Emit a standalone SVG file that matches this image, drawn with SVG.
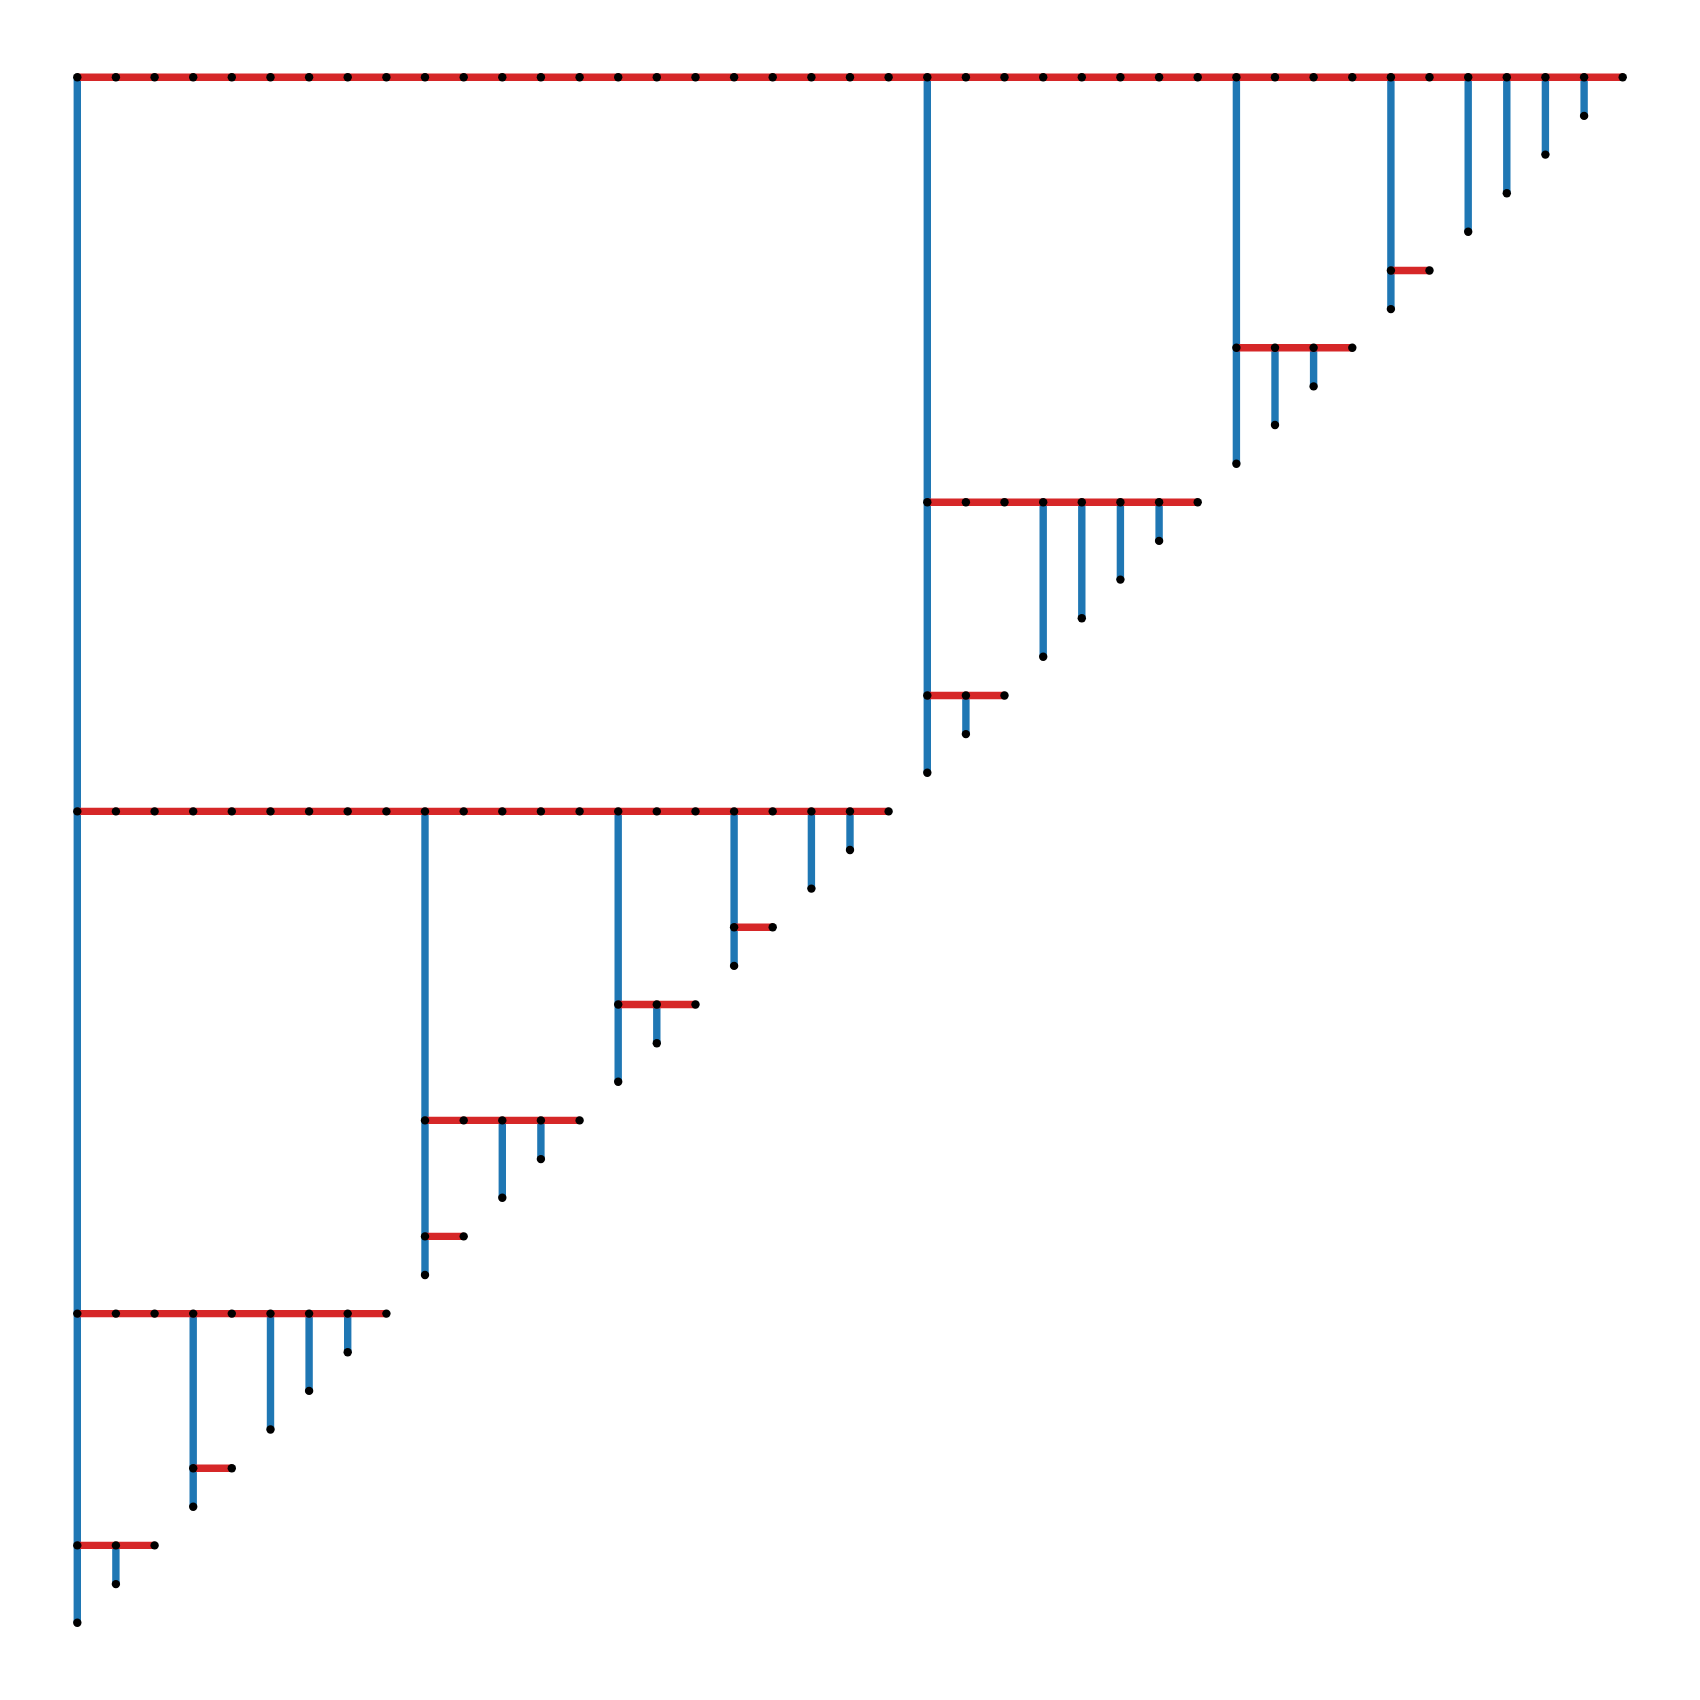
<svg xmlns="http://www.w3.org/2000/svg" width="1700" height="1700" viewBox="0 0 1700 1700">
<style>
.v{stroke:#1f77b4;stroke-width:7.4;stroke-linecap:butt;fill:none}
.h{stroke:#d62728;stroke-width:7.4;stroke-linecap:butt;fill:none}
.n circle{fill:#000}
</style>
<rect width="1700" height="1700" fill="#fff"/>
<g id="connectors">
<g id="vertical">
<line class="v" x1="77.3" y1="77.3" x2="77.3" y2="1622.7"/>
<line class="v" x1="927.3" y1="77.3" x2="927.3" y2="772.7"/>
<line class="v" x1="1236.4" y1="77.3" x2="1236.4" y2="463.7"/>
<line class="v" x1="1390.9" y1="77.3" x2="1390.9" y2="309.1"/>
<line class="v" x1="1468.2" y1="77.3" x2="1468.2" y2="231.8"/>
<line class="v" x1="1506.8" y1="77.3" x2="1506.8" y2="193.2"/>
<line class="v" x1="1545.4" y1="77.3" x2="1545.4" y2="154.6"/>
<line class="v" x1="1584.1" y1="77.3" x2="1584.1" y2="115.9"/>
<line class="v" x1="1313.6" y1="347.7" x2="1313.6" y2="386.4"/>
<line class="v" x1="1275" y1="347.7" x2="1275" y2="425"/>
<line class="v" x1="1043.2" y1="502.3" x2="1043.2" y2="656.8"/>
<line class="v" x1="1081.8" y1="502.3" x2="1081.8" y2="618.2"/>
<line class="v" x1="1120.4" y1="502.3" x2="1120.4" y2="579.6"/>
<line class="v" x1="1159.1" y1="502.3" x2="1159.1" y2="540.9"/>
<line class="v" x1="965.9" y1="695.5" x2="965.9" y2="734.1"/>
<line class="v" x1="425" y1="811.4" x2="425" y2="1275"/>
<line class="v" x1="618.2" y1="811.4" x2="618.2" y2="1081.8"/>
<line class="v" x1="734.1" y1="811.4" x2="734.1" y2="965.9"/>
<line class="v" x1="811.4" y1="811.4" x2="811.4" y2="888.6"/>
<line class="v" x1="850" y1="811.4" x2="850" y2="850"/>
<line class="v" x1="656.8" y1="1004.5" x2="656.8" y2="1043.2"/>
<line class="v" x1="502.3" y1="1120.4" x2="502.3" y2="1197.7"/>
<line class="v" x1="540.9" y1="1120.4" x2="540.9" y2="1159.1"/>
<line class="v" x1="193.2" y1="1313.6" x2="193.2" y2="1506.8"/>
<line class="v" x1="270.5" y1="1313.6" x2="270.5" y2="1429.5"/>
<line class="v" x1="309.1" y1="1313.6" x2="309.1" y2="1390.9"/>
<line class="v" x1="347.7" y1="1313.6" x2="347.7" y2="1352.3"/>
<line class="v" x1="115.9" y1="1545.4" x2="115.9" y2="1584.1"/>
</g>
<g id="horizontal">
<line class="h" x1="77.3" y1="77.3" x2="1622.7" y2="77.3"/>
<line class="h" x1="1390.9" y1="270.5" x2="1429.5" y2="270.5"/>
<line class="h" x1="1236.4" y1="347.7" x2="1352.3" y2="347.7"/>
<line class="h" x1="927.3" y1="502.3" x2="1197.7" y2="502.3"/>
<line class="h" x1="927.3" y1="695.5" x2="1004.5" y2="695.5"/>
<line class="h" x1="77.3" y1="811.4" x2="888.6" y2="811.4"/>
<line class="h" x1="734.1" y1="927.3" x2="772.7" y2="927.3"/>
<line class="h" x1="618.2" y1="1004.5" x2="695.5" y2="1004.5"/>
<line class="h" x1="425" y1="1120.4" x2="579.6" y2="1120.4"/>
<line class="h" x1="425" y1="1236.4" x2="463.7" y2="1236.4"/>
<line class="h" x1="77.3" y1="1313.6" x2="386.4" y2="1313.6"/>
<line class="h" x1="193.2" y1="1468.2" x2="231.8" y2="1468.2"/>
<line class="h" x1="77.3" y1="1545.4" x2="154.6" y2="1545.4"/>
</g>
</g>
<g id="nodes" class="n">
<g id="n_0_0"><circle cx="77.3" cy="77.3" r="4.2"/></g>
<g id="n_1_0"><circle cx="115.9" cy="77.3" r="4.2"/></g>
<g id="n_2_0"><circle cx="154.6" cy="77.3" r="4.2"/></g>
<g id="n_3_0"><circle cx="193.2" cy="77.3" r="4.2"/></g>
<g id="n_4_0"><circle cx="231.8" cy="77.3" r="4.2"/></g>
<g id="n_5_0"><circle cx="270.5" cy="77.3" r="4.2"/></g>
<g id="n_6_0"><circle cx="309.1" cy="77.3" r="4.2"/></g>
<g id="n_7_0"><circle cx="347.7" cy="77.3" r="4.2"/></g>
<g id="n_8_0"><circle cx="386.4" cy="77.3" r="4.2"/></g>
<g id="n_9_0"><circle cx="425" cy="77.3" r="4.2"/></g>
<g id="n_10_0"><circle cx="463.7" cy="77.3" r="4.2"/></g>
<g id="n_11_0"><circle cx="502.3" cy="77.3" r="4.2"/></g>
<g id="n_12_0"><circle cx="540.9" cy="77.3" r="4.2"/></g>
<g id="n_13_0"><circle cx="579.6" cy="77.3" r="4.2"/></g>
<g id="n_14_0"><circle cx="618.2" cy="77.3" r="4.2"/></g>
<g id="n_15_0"><circle cx="656.8" cy="77.3" r="4.2"/></g>
<g id="n_16_0"><circle cx="695.5" cy="77.3" r="4.2"/></g>
<g id="n_17_0"><circle cx="734.1" cy="77.3" r="4.2"/></g>
<g id="n_18_0"><circle cx="772.7" cy="77.3" r="4.2"/></g>
<g id="n_19_0"><circle cx="811.4" cy="77.3" r="4.2"/></g>
<g id="n_20_0"><circle cx="850" cy="77.3" r="4.2"/></g>
<g id="n_21_0"><circle cx="888.6" cy="77.3" r="4.2"/></g>
<g id="n_22_0"><circle cx="927.3" cy="77.3" r="4.2"/></g>
<g id="n_23_0"><circle cx="965.9" cy="77.3" r="4.2"/></g>
<g id="n_24_0"><circle cx="1004.5" cy="77.3" r="4.2"/></g>
<g id="n_25_0"><circle cx="1043.2" cy="77.3" r="4.2"/></g>
<g id="n_26_0"><circle cx="1081.8" cy="77.3" r="4.2"/></g>
<g id="n_27_0"><circle cx="1120.4" cy="77.3" r="4.2"/></g>
<g id="n_28_0"><circle cx="1159.1" cy="77.3" r="4.2"/></g>
<g id="n_29_0"><circle cx="1197.7" cy="77.3" r="4.2"/></g>
<g id="n_30_0"><circle cx="1236.4" cy="77.3" r="4.2"/></g>
<g id="n_31_0"><circle cx="1275" cy="77.3" r="4.2"/></g>
<g id="n_32_0"><circle cx="1313.6" cy="77.3" r="4.2"/></g>
<g id="n_33_0"><circle cx="1352.3" cy="77.3" r="4.2"/></g>
<g id="n_34_0"><circle cx="1390.9" cy="77.3" r="4.2"/></g>
<g id="n_35_0"><circle cx="1429.5" cy="77.3" r="4.2"/></g>
<g id="n_36_0"><circle cx="1468.2" cy="77.3" r="4.2"/></g>
<g id="n_37_0"><circle cx="1506.8" cy="77.3" r="4.2"/></g>
<g id="n_38_0"><circle cx="1545.4" cy="77.3" r="4.2"/></g>
<g id="n_39_0"><circle cx="1584.1" cy="77.3" r="4.2"/></g>
<g id="n_40_0"><circle cx="1622.7" cy="77.3" r="4.2"/></g>
<g id="n_39_1"><circle cx="1584.1" cy="115.9" r="4.2"/></g>
<g id="n_38_2"><circle cx="1545.4" cy="154.6" r="4.2"/></g>
<g id="n_37_3"><circle cx="1506.8" cy="193.2" r="4.2"/></g>
<g id="n_36_4"><circle cx="1468.2" cy="231.8" r="4.2"/></g>
<g id="n_34_5"><circle cx="1390.9" cy="270.5" r="4.2"/></g>
<g id="n_35_5"><circle cx="1429.5" cy="270.5" r="4.2"/></g>
<g id="n_34_6"><circle cx="1390.9" cy="309.1" r="4.2"/></g>
<g id="n_30_7"><circle cx="1236.4" cy="347.7" r="4.2"/></g>
<g id="n_31_7"><circle cx="1275" cy="347.7" r="4.2"/></g>
<g id="n_32_7"><circle cx="1313.6" cy="347.7" r="4.2"/></g>
<g id="n_33_7"><circle cx="1352.3" cy="347.7" r="4.2"/></g>
<g id="n_32_8"><circle cx="1313.6" cy="386.4" r="4.2"/></g>
<g id="n_31_9"><circle cx="1275" cy="425" r="4.2"/></g>
<g id="n_30_10"><circle cx="1236.4" cy="463.7" r="4.2"/></g>
<g id="n_22_11"><circle cx="927.3" cy="502.3" r="4.2"/></g>
<g id="n_23_11"><circle cx="965.9" cy="502.3" r="4.2"/></g>
<g id="n_24_11"><circle cx="1004.5" cy="502.3" r="4.2"/></g>
<g id="n_25_11"><circle cx="1043.2" cy="502.3" r="4.2"/></g>
<g id="n_26_11"><circle cx="1081.8" cy="502.3" r="4.2"/></g>
<g id="n_27_11"><circle cx="1120.4" cy="502.3" r="4.2"/></g>
<g id="n_28_11"><circle cx="1159.1" cy="502.3" r="4.2"/></g>
<g id="n_29_11"><circle cx="1197.7" cy="502.3" r="4.2"/></g>
<g id="n_28_12"><circle cx="1159.1" cy="540.9" r="4.2"/></g>
<g id="n_27_13"><circle cx="1120.4" cy="579.6" r="4.2"/></g>
<g id="n_26_14"><circle cx="1081.8" cy="618.2" r="4.2"/></g>
<g id="n_25_15"><circle cx="1043.2" cy="656.8" r="4.2"/></g>
<g id="n_22_16"><circle cx="927.3" cy="695.5" r="4.2"/></g>
<g id="n_23_16"><circle cx="965.9" cy="695.5" r="4.2"/></g>
<g id="n_24_16"><circle cx="1004.5" cy="695.5" r="4.2"/></g>
<g id="n_23_17"><circle cx="965.9" cy="734.1" r="4.2"/></g>
<g id="n_22_18"><circle cx="927.3" cy="772.7" r="4.2"/></g>
<g id="n_0_19"><circle cx="77.3" cy="811.4" r="4.2"/></g>
<g id="n_1_19"><circle cx="115.9" cy="811.4" r="4.2"/></g>
<g id="n_2_19"><circle cx="154.6" cy="811.4" r="4.2"/></g>
<g id="n_3_19"><circle cx="193.2" cy="811.4" r="4.2"/></g>
<g id="n_4_19"><circle cx="231.8" cy="811.4" r="4.2"/></g>
<g id="n_5_19"><circle cx="270.5" cy="811.4" r="4.2"/></g>
<g id="n_6_19"><circle cx="309.1" cy="811.4" r="4.2"/></g>
<g id="n_7_19"><circle cx="347.7" cy="811.4" r="4.2"/></g>
<g id="n_8_19"><circle cx="386.4" cy="811.4" r="4.2"/></g>
<g id="n_9_19"><circle cx="425" cy="811.4" r="4.2"/></g>
<g id="n_10_19"><circle cx="463.7" cy="811.4" r="4.2"/></g>
<g id="n_11_19"><circle cx="502.3" cy="811.4" r="4.2"/></g>
<g id="n_12_19"><circle cx="540.9" cy="811.4" r="4.2"/></g>
<g id="n_13_19"><circle cx="579.6" cy="811.4" r="4.2"/></g>
<g id="n_14_19"><circle cx="618.2" cy="811.4" r="4.2"/></g>
<g id="n_15_19"><circle cx="656.8" cy="811.4" r="4.2"/></g>
<g id="n_16_19"><circle cx="695.5" cy="811.4" r="4.2"/></g>
<g id="n_17_19"><circle cx="734.1" cy="811.4" r="4.2"/></g>
<g id="n_18_19"><circle cx="772.7" cy="811.4" r="4.2"/></g>
<g id="n_19_19"><circle cx="811.4" cy="811.4" r="4.2"/></g>
<g id="n_20_19"><circle cx="850" cy="811.4" r="4.2"/></g>
<g id="n_21_19"><circle cx="888.6" cy="811.4" r="4.2"/></g>
<g id="n_20_20"><circle cx="850" cy="850" r="4.2"/></g>
<g id="n_19_21"><circle cx="811.4" cy="888.6" r="4.2"/></g>
<g id="n_17_22"><circle cx="734.1" cy="927.3" r="4.2"/></g>
<g id="n_18_22"><circle cx="772.7" cy="927.3" r="4.2"/></g>
<g id="n_17_23"><circle cx="734.1" cy="965.9" r="4.2"/></g>
<g id="n_14_24"><circle cx="618.2" cy="1004.5" r="4.2"/></g>
<g id="n_15_24"><circle cx="656.8" cy="1004.5" r="4.2"/></g>
<g id="n_16_24"><circle cx="695.5" cy="1004.5" r="4.2"/></g>
<g id="n_15_25"><circle cx="656.8" cy="1043.2" r="4.2"/></g>
<g id="n_14_26"><circle cx="618.2" cy="1081.8" r="4.2"/></g>
<g id="n_9_27"><circle cx="425" cy="1120.4" r="4.2"/></g>
<g id="n_10_27"><circle cx="463.7" cy="1120.4" r="4.2"/></g>
<g id="n_11_27"><circle cx="502.3" cy="1120.4" r="4.2"/></g>
<g id="n_12_27"><circle cx="540.9" cy="1120.4" r="4.2"/></g>
<g id="n_13_27"><circle cx="579.6" cy="1120.4" r="4.2"/></g>
<g id="n_12_28"><circle cx="540.9" cy="1159.1" r="4.2"/></g>
<g id="n_11_29"><circle cx="502.3" cy="1197.7" r="4.2"/></g>
<g id="n_9_30"><circle cx="425" cy="1236.4" r="4.2"/></g>
<g id="n_10_30"><circle cx="463.7" cy="1236.4" r="4.2"/></g>
<g id="n_9_31"><circle cx="425" cy="1275" r="4.2"/></g>
<g id="n_0_32"><circle cx="77.3" cy="1313.6" r="4.2"/></g>
<g id="n_1_32"><circle cx="115.9" cy="1313.6" r="4.2"/></g>
<g id="n_2_32"><circle cx="154.6" cy="1313.6" r="4.2"/></g>
<g id="n_3_32"><circle cx="193.2" cy="1313.6" r="4.2"/></g>
<g id="n_4_32"><circle cx="231.8" cy="1313.6" r="4.2"/></g>
<g id="n_5_32"><circle cx="270.5" cy="1313.6" r="4.2"/></g>
<g id="n_6_32"><circle cx="309.1" cy="1313.6" r="4.2"/></g>
<g id="n_7_32"><circle cx="347.7" cy="1313.6" r="4.2"/></g>
<g id="n_8_32"><circle cx="386.4" cy="1313.6" r="4.2"/></g>
<g id="n_7_33"><circle cx="347.7" cy="1352.3" r="4.2"/></g>
<g id="n_6_34"><circle cx="309.1" cy="1390.9" r="4.2"/></g>
<g id="n_5_35"><circle cx="270.5" cy="1429.5" r="4.2"/></g>
<g id="n_3_36"><circle cx="193.2" cy="1468.2" r="4.2"/></g>
<g id="n_4_36"><circle cx="231.8" cy="1468.2" r="4.2"/></g>
<g id="n_3_37"><circle cx="193.2" cy="1506.8" r="4.2"/></g>
<g id="n_0_38"><circle cx="77.3" cy="1545.4" r="4.2"/></g>
<g id="n_1_38"><circle cx="115.9" cy="1545.4" r="4.2"/></g>
<g id="n_2_38"><circle cx="154.6" cy="1545.4" r="4.2"/></g>
<g id="n_1_39"><circle cx="115.9" cy="1584.1" r="4.2"/></g>
<g id="n_0_40"><circle cx="77.3" cy="1622.7" r="4.2"/></g>
</g>
</svg>
